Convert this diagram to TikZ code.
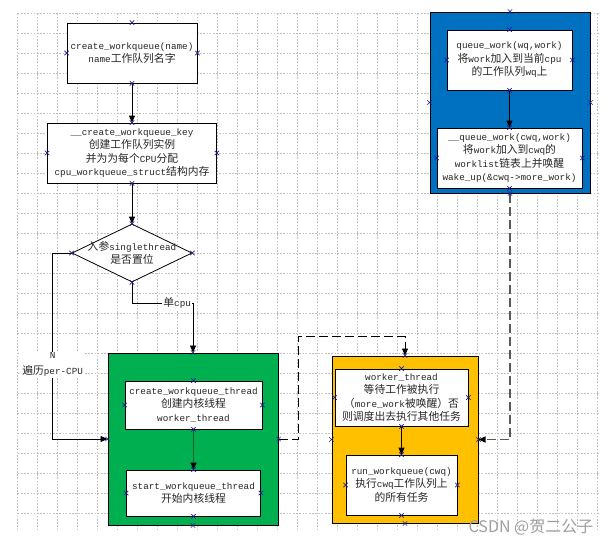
\documentclass[tikz,border=0pt]{standalone}
\usepackage{fontspec}
\setmainfont{Liberation Mono}
\newfontfamily\cjk{Noto Sans CJK SC}
\usetikzlibrary{arrows.meta,shapes.geometric,calc}
\definecolor{gbox}{RGB}{0,176,80}
\definecolor{ybox}{RGB}{255,192,0}
\definecolor{bbox}{RGB}{0,112,192}
\definecolor{xmk}{RGB}{30,30,150}
\definecolor{gridc}{RGB}{190,190,190}
\definecolor{garrc}{RGB}{15,100,40}
\newcommand\zh[1]{{\cjk\fontsize{10.8}{13.5}\selectfont #1}}
\tikzset{
  gridl/.style={draw=gridc, line width=0.7pt, dash pattern=on 1.6pt off 1.6pt},
  txt/.style={align=center, font=\fontsize{9.3}{13.5}\selectfont, text=black!85},
  wbox/.style={txt, draw=black, line width=0.8pt, fill=white, inner sep=0pt},
  outer/.style={draw=black, line width=1pt, inner sep=0pt},
  arr/.style={draw=black, line width=0.8pt, -{Triangle[length=7pt,width=6pt,color=black,fill=black]}},
  garr/.style={draw=garrc, line width=1.6pt, -{Triangle[length=7pt,width=6pt,color=black,fill=black]}},
  dsh/.style={arr, dash pattern=on 9pt off 4pt},
  lbl/.style={txt, fill=white, inner sep=1pt},
  xm/.style={draw=xmk, line width=0.6pt}
}
\begin{document}
\begin{tikzpicture}[x=1pt,y=-1pt]
\useasboundingbox (0,0) rectangle (616,547);
% grid
\foreach \i in {0,...,29} \draw[gridl] ({17.7+20*\i},13.3) -- ({17.7+20*\i},530);
\foreach \j in {0,...,25} \draw[gridl] (17.7,{13.3+20*\j}) -- (600,{13.3+20*\j});

% left column
\node[wbox, minimum width=130pt, minimum height=60pt] (b1) at (132,53)
  {create\_workqueue(name)\\name\zh{工作队列名字}};
\node[wbox, minimum width=169pt, minimum height=60pt] (b2) at (132,153)
  {\_\_create\_workqueue\_key\\\zh{创建工作队列实例}\\\zh{并为为每个}CPU\zh{分配}\\cpu\_workqueue\_struct\zh{结构内存}};
\node[draw=black, line width=0.8pt, fill=white, diamond, minimum width=120pt, minimum height=58pt, inner sep=0pt] (dia) at (132,253) {};
\node[txt, inner sep=0pt] (diat) at (132,253) {\zh{入参}singlethread\\\zh{是否置位}};

% green group
\node[outer, fill=gbox, minimum width=170pt, minimum height=172pt] (g) at (193,439) {};
\node[wbox, minimum width=137pt, minimum height=48pt] (g1) at (193.5,405)
  {create\_workqueue\_thread\\\zh{创建内核线程}\\worker\_thread};
\node[wbox, minimum width=134pt, minimum height=46pt] (g2) at (193.5,493)
  {start\_workqueue\_thread\\\zh{开始内核线程}};

% yellow group
\node[outer, fill=ybox, minimum width=146pt, minimum height=167pt] (yl) at (405,439.5) {};
\node[wbox, minimum width=133pt, minimum height=57pt] (y1) at (401.5,397.5)
  {worker\_thread\\\zh{等待工作被执行}\\\zh{（}more\_work\zh{被唤醒）否}\\\zh{则调度出去执行其他任务}};
\node[wbox, minimum width=111pt, minimum height=60pt] (y2) at (401.5,485)
  {run\_workqueue(cwq)\\\zh{执行}cwq\zh{工作队列上}\\\zh{的所有任务}};

% blue group
\node[outer, fill=bbox, minimum width=160pt, minimum height=181pt] (bl) at (510,102.5) {};
\node[wbox, minimum width=125pt, minimum height=60pt] (bl1) at (509.5,60)
  {queue\_work(wq,work)\\\zh{将}work\zh{加入到当前}cpu\\\zh{的工作队列}wq\zh{上}};
\node[wbox, minimum width=145pt, minimum height=60pt] (bl2) at (509.5,158)
  {\_\_queue\_work(cwq,work)\\\zh{将}work\zh{加入到}cwq\zh{的}\\worklist\zh{链表上并唤醒}\\wake\_up(\&cwq->more\_work)};

% connectors
\draw[arr] (b1.south) -- (b2.north);
\draw[arr] (b2.south) -- (dia.north);
\draw[arr] (dia.south) -- ++(0,21) -| node[lbl, pos=0.37] {\zh{单}cpu} (g.north);
\draw[arr] (dia.west) -- ++(-19,0) |- node[lbl, pos=0.3] {N\\[2.5pt]\zh{遍历}per-CPU} (g.west);
\draw[garr] (g1.south) -- (g2.north);
\draw[arr] (y1.south) -- (y2.north);
\draw[arr] (bl1.south) -- (bl2.north);
\draw[dsh] (g.east) -- ++(20,0) |- ([yshift=19pt]yl.north) -- (yl.north);
\draw[dsh, draw=black!65, line width=1.1pt] (bl.south) |- (yl.east);

% connection points
\foreach \n in {b1,b2,dia,g,g1,g2,yl,y1,y2,bl,bl1,bl2}
  \foreach \a in {north,south,east,west}
    \draw[xm] (\n.\a) +(-2.2,-2.2) -- +(2.2,2.2) +(-2.2,2.2) -- +(2.2,-2.2);

% watermark
\node[font=\cjk\fontsize{16}{16}\selectfont, text=black!38, inner sep=0pt] (wm) at (531,527) {CSDN @贺二公子};
\end{tikzpicture}
\end{document}
